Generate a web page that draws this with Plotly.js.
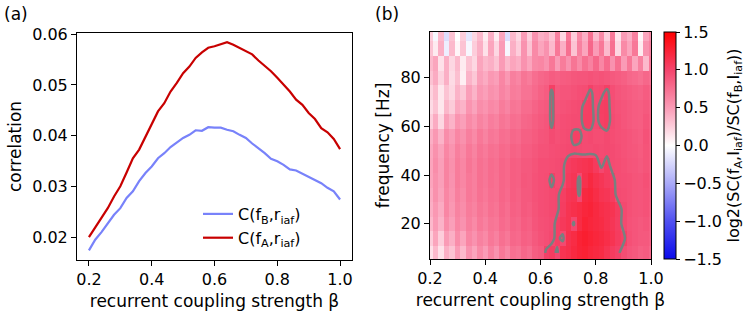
<!DOCTYPE html>
<html>
<head>
<meta charset="utf-8">
<script src="https://cdn.plot.ly/plotly-3.0.1.min.js"></script>
<style>html,body{margin:0;padding:0;background:#fff;}#chart{width:748px;height:314px;}</style>
</head>
<body>
<div id="chart"></div>
<script>
// ---- panel (a) data ----
const beta = [0.20,0.22,0.24,0.26,0.28,0.30,0.32,0.34,0.36,0.38,0.40,0.42,0.44,0.46,0.48,0.50,0.52,0.54,0.56,0.58,0.60,
              0.62,0.64,0.66,0.68,0.70,0.72,0.74,0.76,0.78,0.80,0.82,0.84,0.86,0.88,0.90,0.92,0.94,0.96,0.98,1.00];
const corrB = [0.0175,0.0196,0.0211,0.0229,0.0245,0.0258,0.0278,0.0291,0.0311,0.0327,0.0340,0.0356,0.0366,0.0378,0.0387,0.0396,0.0402,0.0411,0.0410,0.0417,0.0416,
               0.0416,0.0412,0.0409,0.0402,0.0396,0.0385,0.0376,0.0366,0.0355,0.0350,0.0343,0.0334,0.0332,0.0326,0.0319,0.0314,0.0307,0.0298,0.0291,0.0275];
const corrA = [0.0201,0.0220,0.0239,0.0258,0.0281,0.0301,0.0328,0.0356,0.0373,0.0399,0.0425,0.0448,0.0464,0.0487,0.0504,0.0523,0.0536,0.0553,0.0564,0.0573,0.0576,
               0.0580,0.0584,0.0579,0.0573,0.0566,0.0560,0.0548,0.0537,0.0527,0.0514,0.0501,0.0487,0.0471,0.0461,0.0445,0.0433,0.0415,0.0407,0.0394,0.0374];

// ---- panel (b) data ----
const betaGrid = beta;
const freq = [8,14,20,26,32,38,44,50,56,62,68,74,80,86,92,98];
const ratio = [
 [0.15,0.35,0.15,0.40,0.30,0.50,0.35,0.55,0.45,0.60,0.50, 0.65,0.55,0.70,0.62,0.75,0.72,0.80,0.76,0.85,0.88, 1.02,1.05,0.98,1.12,1.15,1.20,1.24,1.26,1.22,1.20, 1.18,1.12,1.06,1.02,0.95,0.90,0.88,0.84,0.86,0.80],
 [0.25,0.45,0.25,0.50,0.40,0.58,0.45,0.62,0.55,0.65,0.60, 0.70,0.65,0.75,0.70,0.80,0.78,0.84,0.82,0.88,0.92, 0.94,0.97,1.03,0.97,1.14,1.18,1.25,1.28,1.25,1.22, 1.20,1.16,1.12,1.06,1.03,0.93,0.90,0.88,0.88,0.84],
 [0.35,0.50,0.38,0.58,0.48,0.62,0.55,0.66,0.60,0.70,0.65, 0.72,0.70,0.78,0.75,0.82,0.80,0.86,0.84,0.90,0.93, 0.94,0.96,1.03,1.08,1.12,0.98,1.18,1.25,1.22,1.20, 1.18,1.14,1.10,1.05,0.97,0.92,0.90,0.88,0.90,0.85],
 [0.40,0.52,0.42,0.62,0.52,0.64,0.58,0.68,0.64,0.72,0.68, 0.75,0.72,0.80,0.76,0.84,0.82,0.88,0.86,0.91,0.94, 0.95,0.97,0.98,1.05,1.12,1.15,1.18,1.22,1.24,1.20, 1.16,1.14,1.12,1.06,0.97,0.93,0.91,0.90,0.92,0.87],
 [0.42,0.56,0.46,0.62,0.54,0.66,0.60,0.70,0.66,0.74,0.70, 0.76,0.74,0.81,0.78,0.85,0.83,0.88,0.88,0.92,0.94, 0.95,0.97,0.98,1.04,1.10,1.12,0.98,1.20,1.22,1.17, 1.12,1.10,1.06,0.96,0.95,0.93,0.91,0.90,0.92,0.88],
 [0.45,0.56,0.48,0.64,0.55,0.68,0.62,0.70,0.66,0.75,0.71, 0.77,0.74,0.81,0.79,0.85,0.84,0.89,0.88,0.92,0.94, 0.95,1.03,0.96,0.98,1.07,1.10,0.97,1.14,1.20,1.14, 1.10,1.06,1.04,0.95,0.94,0.93,0.91,0.90,0.93,0.88],
 [0.45,0.58,0.48,0.64,0.56,0.68,0.62,0.72,0.66,0.75,0.71, 0.77,0.75,0.81,0.79,0.85,0.84,0.88,0.88,0.91,0.94, 0.94,0.95,0.96,0.98,1.05,1.08,1.10,1.12,1.14,1.07, 0.98,1.05,0.96,0.95,0.93,0.91,0.90,0.88,0.91,0.87],
 [0.44,0.56,0.46,0.62,0.54,0.66,0.60,0.70,0.64,0.73,0.69, 0.75,0.73,0.79,0.77,0.83,0.81,0.86,0.86,0.89,0.92, 0.92,0.94,0.95,0.96,0.97,0.98,0.97,0.96,0.96,0.97, 0.96,0.97,0.96,0.94,0.92,0.90,0.89,0.87,0.91,0.87],
 [0.40,0.52,0.38,0.58,0.50,0.62,0.56,0.66,0.60,0.70,0.64, 0.71,0.69,0.76,0.74,0.80,0.78,0.84,0.84,0.87,0.90, 0.91,0.96,0.93,0.95,0.96,1.03,1.03,0.96,0.97,0.95, 0.95,0.97,0.95,0.93,0.92,0.90,0.88,0.86,0.92,0.86],
 [0.25,0.42,0.20,0.48,0.38,0.54,0.48,0.60,0.54,0.64,0.59, 0.67,0.64,0.72,0.69,0.76,0.74,0.80,0.81,0.85,0.88, 0.90,1.03,0.92,0.94,0.95,0.96,0.96,1.04,1.04,0.97, 1.03,1.05,0.96,0.93,0.90,0.88,0.86,0.85,0.90,0.85],
 [0.18,0.30,0.12,0.36,0.26,0.44,0.38,0.54,0.46,0.58,0.54, 0.61,0.58,0.68,0.63,0.72,0.70,0.77,0.77,0.82,0.86, 0.88,1.04,0.90,0.92,0.93,0.95,0.96,1.03,1.04,0.96, 1.04,1.05,0.95,0.92,0.90,0.88,0.86,0.85,0.88,0.84],
 [0.22,0.34,0.12,0.30,0.20,0.38,0.28,0.48,0.38,0.53,0.48, 0.56,0.53,0.63,0.58,0.68,0.66,0.73,0.73,0.78,0.83, 0.86,1.03,0.88,0.90,0.90,0.92,0.94,0.95,1.02,0.96, 0.97,1.03,0.94,0.90,0.88,0.86,0.84,0.82,0.86,0.82],
 [0.30,0.42,0.22,0.40,0.18,0.32,0.08,0.38,0.28,0.48,0.42, 0.52,0.48,0.62,0.52,0.66,0.62,0.72,0.68,0.76,0.80, 0.82,0.86,0.84,0.86,0.87,0.89,0.90,0.90,0.92,0.90, 0.92,0.90,0.88,0.86,0.84,0.80,0.78,0.75,0.80,0.76],
 [0.35,0.45,0.15,0.40,0.20,0.35,0.10,0.30,0.20,0.45,0.35, 0.40,0.30,0.50,0.35,0.45,0.40,0.55,0.45,0.60,0.62, 0.55,0.70,0.50,0.68,0.55,0.72,0.60,0.75,0.65,0.80, 0.62,0.78,0.55,0.75,0.50,0.70,0.45,0.65,0.35,0.70],
 [0.30,0.10,0.40,-0.10,0.35,0.05,0.30,-0.05,0.25,0.40,0.15, 0.45,0.20,0.50,-0.05,0.40,0.25,0.55,0.30,0.60,0.45, 0.55,0.35,0.70,0.40,0.75,0.30,0.65,0.45,0.80,0.50, 0.70,0.35,0.75,0.20,0.60,0.45,0.70,0.10,0.55,0.65],
 [0.25,-0.05,0.35,-0.20,0.30,0.00,0.25,-0.15,0.20,0.35,0.10, 0.40,0.10,0.45,-0.20,0.35,0.20,0.50,0.25,0.55,0.40, 0.45,0.30,0.65,0.20,0.70,0.25,0.60,0.40,0.75,0.35, 0.60,0.25,0.70,0.15,0.50,0.40,0.65,0.05,0.45,0.60]
];
const xTicks = [0.2,0.4,0.6,0.8,1.0];
const xTickText = ['0.2','0.4','0.6','0.8','1.0'];
const yTicksA = [0.02,0.03,0.04,0.05,0.06];
const yTickTextA = ['0.02','0.03','0.04','0.05','0.06'];
const yTicksB = [20,40,60,80];
const yTickTextB = ['20','40','60','80'];
const cbTicks = [-1.5,-1.0,-0.5,0.0,0.5,1.0,1.5];
const cbTickText = ['\u22121.5','\u22121.0','\u22120.5','0.0','0.5','1.0','1.5'];

const FONT = 'DejaVu Sans, sans-serif';
const colorscale = [
  [0.0,'rgb(10,10,235)'],
  [0.1667,'rgb(80,80,240)'],
  [0.3333,'rgb(170,170,248)'],
  [0.5,'rgb(255,255,255)'],
  [0.6667,'rgb(250,155,182)'],
  [0.8333,'rgb(244,68,108)'],
  [1.0,'rgb(255,0,0)']
];

const traces = [
  {x: beta, y: corrB, type:'scatter', mode:'lines', name:'C(f<sub>B</sub>,r<sub>iaf</sub>)',
   line:{color:'rgb(120,130,250)', width:2.2}, xaxis:'x', yaxis:'y'},
  {x: beta, y: corrA, type:'scatter', mode:'lines', name:'C(f<sub>A</sub>,r<sub>iaf</sub>)',
   line:{color:'rgb(200,0,0)', width:2.2}, xaxis:'x', yaxis:'y'},
  {x: betaGrid, y: freq, z: ratio, type:'heatmap', colorscale: colorscale, zmin:-1.5, zmax:1.5,
   xaxis:'x2', yaxis:'y2', showlegend:false,
   colorbar:{x:664/748, xanchor:'left', xpad:0, ypad:0, thickness:12, len:227/314, lenmode:'fraction',
     y:(314-259)/314, yanchor:'bottom', outlinewidth:1, outlinecolor:'#000',
     tickmode:'array', tickvals:cbTicks, ticktext:cbTickText, ticks:'outside', ticklen:4, tickcolor:'#000',
     tickfont:{family:FONT, size:16, color:'#000'},
     title:{text:'log2(SC(f<sub>A</sub>,I<sub>iaf</sub>)/SC(f<sub>B</sub>,I<sub>iaf</sub>))', side:'right',
            font:{family:FONT, size:16, color:'#000'}}}},
  {x: betaGrid, y: freq, z: ratio, type:'contour', xaxis:'x2', yaxis:'y2', showscale:false, showlegend:false,
   contours:{start:1.0, end:1.0, size:1, coloring:'lines'}, line:{color:'rgb(120,128,128)', width:2.5, smoothing:0.8},
   colorscale:[[0,'rgb(120,128,128)'],[1,'rgb(120,128,128)']]}
];

const axBase = {showline:true, mirror:true, linecolor:'#000', linewidth:1, ticks:'outside', ticklen:5,
  tickcolor:'#000', showgrid:false, zeroline:false, tickfont:{family:FONT, size:16, color:'#000'}};
const titleFont = {family:FONT, size:17, color:'#000'};

const layout = {
  width:748, height:314, margin:{l:0,r:0,t:0,b:0}, paper_bgcolor:'#fff', plot_bgcolor:'#fff',
  font:{family:FONT, size:16, color:'#000'},
  xaxis: Object.assign({}, axBase, {domain:[77/748, 352/748], range:[0.162,1.038], tickmode:'array',
    tickvals:xTicks, ticktext:xTickText, anchor:'y',
    title:{text:'recurrent coupling strength \u03b2', font:titleFont, standoff:6}}),
  yaxis: Object.assign({}, axBase, {domain:[(314-260)/314, (314-33)/314], range:[0.01562,0.0602], tickmode:'array',
    tickvals:yTicksA, ticktext:yTickTextA, anchor:'x',
    title:{text:'correlation', font:titleFont, standoff:6}}),
  xaxis2: Object.assign({}, axBase, {domain:[430/748, 651/748], range:[0.2,1.0], tickmode:'array',
    tickvals:xTicks, ticktext:xTickText, anchor:'y2',
    title:{text:'recurrent coupling strength \u03b2', font:titleFont, standoff:6}}),
  yaxis2: Object.assign({}, axBase, {domain:[(314-259)/314, (314-32)/314], range:[5.5,98.8], tickmode:'array',
    tickvals:yTicksB, ticktext:yTickTextB, anchor:'x2',
    title:{text:'frequency [Hz]', font:titleFont, standoff:6}}),
  showlegend:true,
  legend:{x:198/748, xanchor:'left', y:(314-197)/314, yanchor:'top', bgcolor:'rgba(0,0,0,0)',
    font:{family:FONT, size:16, color:'#000'}, tracegroupgap:0, itemwidth:30},
  annotations:[
    {text:'(a)', xref:'paper', yref:'paper', x:2/748, y:1-2/314, xanchor:'left', yanchor:'top', showarrow:false,
     font:titleFont},
    {text:'(b)', xref:'paper', yref:'paper', x:373/748, y:1-2/314, xanchor:'left', yanchor:'top', showarrow:false,
     font:titleFont}
  ]
};

Plotly.newPlot('chart', traces, layout, {displayModeBar:false, staticPlot:true});
</script>
</body>
</html>
